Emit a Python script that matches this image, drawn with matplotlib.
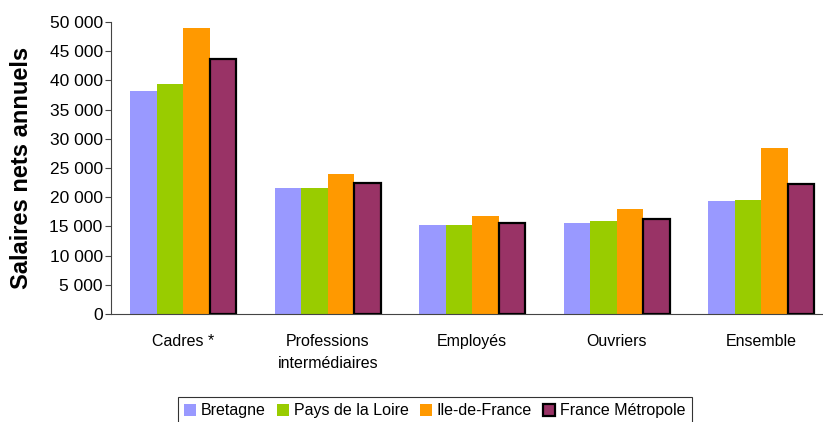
import numpy as np
import matplotlib
matplotlib.use("Agg")
import matplotlib.pyplot as plt
from matplotlib.ticker import FuncFormatter

plt.rcParams['font.family'] = ['Liberation Sans', 'DejaVu Sans']

categories = ["Cadres *", "Professions\nintermédiaires", "Employés", "Ouvriers", "Ensemble"]
series_names = ["Bretagne", "Pays de la Loire", "Ile-de-France", "France Métropole"]
bretagne = [38200, 21500, 15200, 15600, 19300]
pays_loire = [39300, 21500, 15200, 15900, 19600]
ile_de_france = [48900, 24000, 16700, 17900, 28500]
france_metro = [43600, 22400, 15500, 16300, 22200]

colors = ["#9999FF", "#99CC00", "#FF9900", "#993366"]
all_series = [bretagne, pays_loire, ile_de_france, france_metro]

fig = plt.figure(figsize=(8.23, 4.22), dpi=100)
# plot area runs a bit past the right edge, like the original
ax = fig.add_axes([111 / 823, 108 / 422, 722.5 / 823, 292 / 422])

x = np.arange(len(categories))
width = 0.184
for i, vals in enumerate(all_series):
    if i == 3:
        ax.bar(x + (i - 1.5) * width, vals, width, color=colors[i], edgecolor="black",
               linewidth=1.6, label=series_names[i], zorder=3)
    else:
        ax.bar(x + (i - 1.5) * width, vals, width, color=colors[i], linewidth=0,
               label=series_names[i], zorder=2)

ax.set_xlim(-0.5, len(categories) - 0.5)
ax.set_ylim(0, 50000)
ax.set_yticks(range(0, 50001, 5000))
ax.yaxis.set_major_formatter(FuncFormatter(lambda v, p: f"{v:,.0f}".replace(",", " ")))
ax.set_xticks(x)
ax.set_xticklabels(categories, linespacing=1.55)
ax.tick_params(axis="x", length=0, pad=14.5, labelsize=11.5)
ax.tick_params(axis="y", length=4, width=0.8, color="#444444", labelsize=12.5, pad=2)

for s in ["top", "right"]:
    ax.spines[s].set_visible(False)
ax.spines["left"].set_color("#444444")
ax.spines["bottom"].set_color("#444444")

ax.set_ylabel("Salaires nets annuels", fontsize=17, fontweight="bold")
ax.yaxis.set_label_coords(-0.108, 0.5)

leg = fig.legend(loc="upper center", bbox_to_anchor=(435 / 823, 25 / 422), ncol=4,
                 fontsize=11.5, frameon=True, fancybox=False, edgecolor="black",
                 handlelength=0.75, handleheight=0.75, handletextpad=0.3,
                 columnspacing=0.7, borderpad=0.4, borderaxespad=0)
leg.get_frame().set_linewidth(0.8)

fig.savefig("out.png", dpi=100)
